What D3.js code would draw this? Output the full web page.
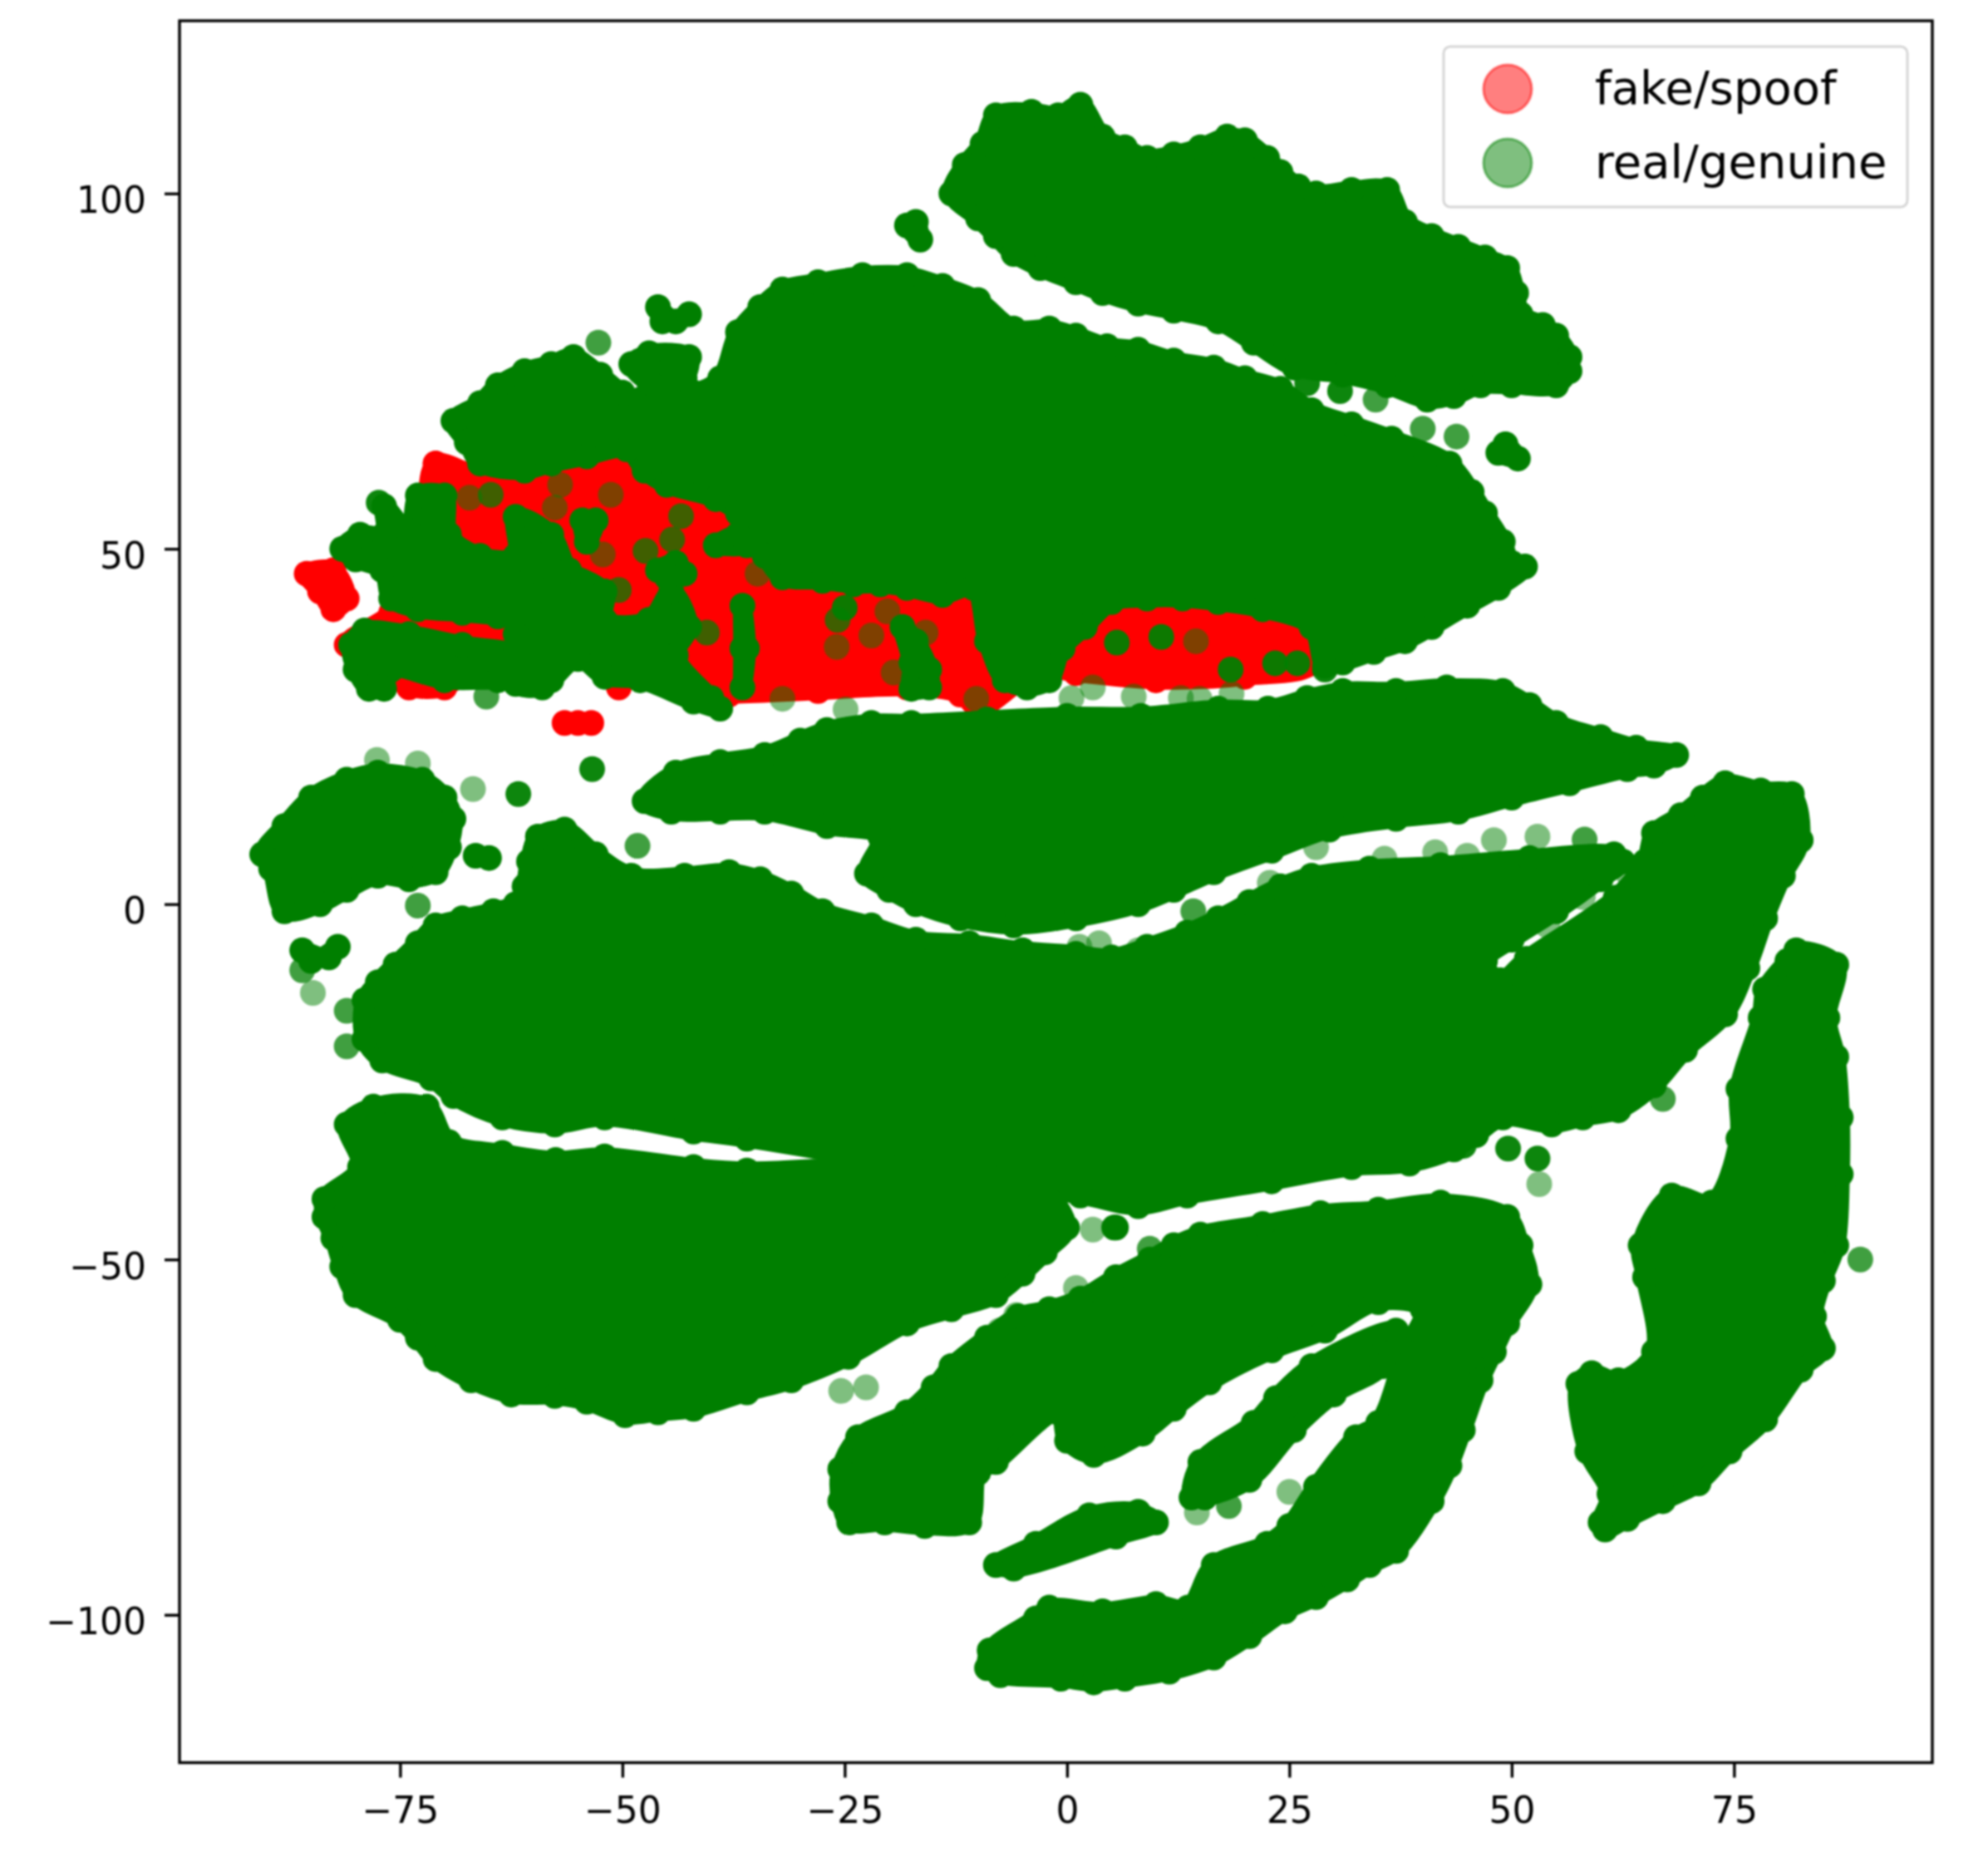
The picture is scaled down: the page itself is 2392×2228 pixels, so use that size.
<!DOCTYPE html>
<html><head><meta charset="utf-8">
<script src="https://cdn.jsdelivr.net/npm/d3@7"></script>
<style>html,body{margin:0;padding:0;background:#fff}svg{display:block;filter:blur(0.9px)}text{font-family:"DejaVu Sans";fill:#000}</style>
</head><body><div id="c"></div>
<script>
// The reference has far too many overlapping points to read one by one. Where they merge into a
// solid mass, the mass is recorded as the ring of edge-point centres read from the picture (data units).
// Points that can be told apart are listed individually.
const xTicks=[-75,-50,-25,0,25,50,75];
const yTicks=[-100,-50,0,50,100];
const seriesNames=["fake/spoof","real/genuine"];

const fakeMain=[[-71,62],[-65,60],[-50,63],[-42,58],[-32,52],[-20,48],[-10,46],[0,44],[10,44],[20,44],[28,44],[28,34],[20,32],[10,31.5],[1,32.5],[-3,33],[-10,27.5],[-12,29.5],[-18,30.5],[-28,30],[-38,29.5],[-43,30],[-44,34],[-50,34.5],[-58,35],[-66,34],[-70,30.5],[-74,30.5],[-77,33],[-81,36.5],[-76,41],[-72,48],[-72,55]];
const fakeBlobA=[[-85.5,46.5],[-82.5,47],[-81,43],[-82.5,41.5],[-84,44]];
const fakeBlobB=[[-56.5,25.5],[-55,25.5],[-53.5,25.5]];
const fakePoints=[[-50.4,30.5],[-71,62],[-10,27]];

const realTopRight=[[-13,100],[-11.5,104],[-9.5,107],[-8,111],[-4,111.5],[-1,111],[1.5,112.5],[4,108],[6.5,106.5],[9,105],[12,105.5],[15,106.5],[18,108],[20,107.5],[22.5,105],[24,103],[26,101],[28,100],[32,100.5],[36,100.5],[38,96],[41,94],[44,92.5],[47,91],[49.5,89.5],[50.5,86],[51,83],[53.5,81.5],[55,80],[56.5,77],[56.5,75],[55,73],[50,73],[46.5,73],[43.5,71.5],[40.5,71],[36,73],[31,74.5],[25.6,75.5],[21,79],[17,82],[12,83.5],[8,84.5],[4,86],[1,87.5],[-3,89.5],[-6,91.5],[-8,94],[-10,96.5]];
const realUpper=[[-67.5,65],[-69,68],[-66,70.5],[-64,73],[-61,75],[-58,76],[-55.5,77],[-52.5,74.5],[-50,72],[-48,71],[-46,71],[-42,72],[-39,74],[-37,80.5],[-34.5,84],[-32,86.5],[-28,87.5],[-23,88.5],[-18,88.5],[-14,87],[-10,85],[-6,81],[-2,81],[1,80],[4.5,78.5],[8,78],[12,76.5],[16.5,75.5],[20,74],[24,72.5],[27.5,69.5],[32,67.5],[36.5,65.5],[43,62],[45.5,58],[47,55],[49,51],[50,48],[51.5,47.5],[48.5,44.5],[45,42],[41,39],[38,37],[34.5,35.5],[31,34],[29,33.5],[27.5,39],[22,41.5],[17,42.5],[13,43],[9,43],[5,42.5],[2,39],[-0.5,36],[-2,31.5],[-4.5,30.5],[-7,31.5],[-9,37],[-10.5,44.5],[-14,43.5],[-18,44.5],[-21,45],[-24,45],[-27.5,45.5],[-32,46],[-34,49],[-37,55],[-39.5,57],[-45,59],[-47.5,61],[-49.5,64],[-54,63],[-58,62],[-61,61],[-66,62]];
const realMidBand=[[-47.5,14.5],[-44,18.5],[-39,20],[-34,21],[-30,23],[-27,24.5],[-22,25.5],[-17.5,25.5],[-9,26],[0,26.5],[8.3,26.5],[17,27.5],[22.6,27.5],[27,29],[31,30],[37,30],[42.7,30.5],[49,30],[52,28],[55,25.5],[60,23.5],[64,22],[68.5,21],[66,19.5],[63,19],[56.5,17],[50,15],[44,13],[37,12],[29.5,10.5],[23,7.5],[16.5,4.5],[12,2],[8,0],[1,-2],[-6,-3],[-12,-2],[-17,0],[-20,2],[-22.5,4.3],[-21,9.5],[-27,11],[-34,13],[-39,13],[-44.5,13]];
const realLeftTop=[[-90.5,7],[-88,11],[-85,15],[-81,17.5],[-77.5,18.5],[-72.5,17.5],[-70,15],[-69,12],[-69.5,8],[-71,4.5],[-74,3.5],[-77.5,4],[-81,2],[-84,0],[-88,-1],[-89.5,5]];
const realLeftSmall=[[-86,-6.5],[-83,-7.5],[-82,-6],[-85,-8]];
const realMain=[[-79,-13.5],[-77.5,-11],[-75.5,-8.5],[-73,-5.5],[-71,-3],[-68,-2],[-64.5,-1],[-62,0],[-61,2.5],[-60.5,6],[-59.5,9.5],[-56.5,10.5],[-53,7],[-49,4],[-43,4],[-38,4.5],[-34.5,3.5],[-31,1.5],[-27.5,-1],[-22,-3],[-17,-5],[-11,-5.5],[-5,-6.5],[1,-7],[5,-7.5],[9,-6],[13.5,-4],[17,-2],[20.5,0.3],[24,2.5],[27.5,4],[34,5],[42,5.5],[52,6.5],[61.5,7],[62.5,6],[60,3.5],[55,-1],[50,-5],[47,-8],[48.7,-10.7],[51.7,-7.7],[61.7,0.9],[65,6],[66,10],[69,12.5],[71.5,15],[74,17],[78,16],[81.5,15.5],[82.5,9],[80.5,4],[78.5,-2],[76.5,-9],[74,-15.5],[69.5,-20.5],[66,-25.5],[62,-29],[58,-30],[54.5,-31],[49,-30],[46,-32.5],[43.5,-34.5],[38.5,-36.5],[32,-37],[23,-39],[13.5,-41],[8,-42.5],[1.5,-41],[-36,-33],[-42,-32],[-52,-30],[-57.6,-31],[-63.5,-30],[-69,-27],[-71.5,-24.5],[-77,-22],[-79,-19]];
const realLowerLeft=[[-81,-31],[-78,-28.5],[-72,-28.5],[-69.5,-33.5],[-63.5,-35],[-57.5,-36],[-52,-35.5],[-42,-37],[-36,-37.5],[-20,-37],[-3,-40],[0,-45.5],[-2.5,-49],[-5,-52],[-8,-55],[-13,-57],[-18,-59],[-24.6,-63.7],[-31,-67],[-36,-68.7],[-42,-71],[-46,-71.5],[-49.7,-71.9],[-54,-70],[-57.6,-69.2],[-62.5,-69],[-67,-67],[-71,-64],[-73,-61],[-75,-58.5],[-80,-55],[-81.5,-51],[-82.5,-47],[-83.5,-44],[-83.5,-41.5],[-79.5,-37]];
const realLeaf=[[-25.5,-79.5],[-23.5,-75],[-18,-71.5],[-15,-68],[-13,-65],[-9,-61],[-5.5,-58],[-2,-57],[1.5,-55.5],[5.5,-52.5],[9.3,-50],[12,-48],[15,-46.5],[22,-45],[28.5,-43.5],[35,-43],[42,-42],[49.5,-44],[51,-48],[52,-53.5],[49.5,-59],[48,-63],[46.5,-67],[44.5,-74],[43,-79],[41,-84],[37,-91],[34,-93],[31.5,-95],[28,-97.5],[24.5,-99.5],[20.5,-103],[16.5,-106],[11.5,-108],[6.5,-109],[3,-109.5],[-0.7,-109],[-7.5,-108.5],[-9,-107.5],[-8.7,-105],[-3.5,-100.5],[-2,-99],[4,-99.5],[10,-98.5],[13.6,-99],[16.5,-93],[22.5,-90],[25,-87.5],[28,-82],[32.5,-75],[35,-73],[38,-63],[40,-57],[35,-56],[29,-60],[23,-62.8],[16,-67.3],[12,-71],[8.5,-74.5],[3,-77.5],[0,-75.5],[-1,-71.5],[-8,-78.5],[-10,-80],[-11,-87],[-16,-87.5],[-20.5,-87],[-24.5,-87],[-25.5,-84]];
const realLeafArm=[[37,-60],[27.5,-65],[23.5,-69.5],[21,-73],[15,-78.5],[14,-83.5],[15.5,-83.5],[20.5,-81],[25.5,-74],[30,-69],[35.5,-65]];
const realLeafSmall=[[-8,-93],[-3.5,-90],[2.5,-86],[8,-85.5],[10,-87],[5.5,-89],[-6,-93.5]];
const realRight=[[82,-6.5],[86.5,-8.5],[85.5,-16],[86.5,-21.5],[87,-30],[87,-38],[86.5,-48],[85,-53],[84,-58],[85,-62.5],[82.5,-65.5],[78.5,-72.5],[74.5,-77],[71,-81.5],[67,-84],[63,-86.5],[60.5,-88],[60,-87],[61,-83],[58.5,-77],[57.5,-67.5],[59,-66],[62,-67],[66,-63],[65,-52.5],[64.5,-48],[68,-41],[72.5,-42],[75.5,-33],[75.5,-26],[78,-16],[78.5,-12],[81,-8]];
const realBlobTopA=[[-46,84],[-44,82],[-42.5,83],[-45.5,82]];
const realBlobTopB=[[-49,76],[-47,77.5],[-42.5,77],[-43,74],[-47,73.5]];
const realBlobTopC=[[-18,95.5],[-16.5,93.5],[-17,96]];
const realOverRedA=[[-81.5,50],[-79.5,52],[-76.8,52],[-76.8,56],[-74,52.5],[-73,57.5],[-70,57.5],[-69.5,52],[-66,49],[-62,49],[-62,54.5],[-58,52],[-56,47],[-54,45],[-54.5,42],[-60,40],[-64,40.5],[-68,41],[-73,41.5],[-76,43],[-77,47],[-80,48.5]];
const realOverRedB=[[-80.5,36.5],[-79,38.5],[-74,38],[-68,36.5],[-62,35.5],[-58,33.5],[-58,31.5],[-64,31.5],[-70,31.5],[-76,33],[-76.8,30.3],[-78.5,30.3],[-80,33]];
const realOverRedC=[[-60,47],[-52,44],[-52,40],[-47,40],[-44.5,44],[-42.5,39],[-44,35],[-40,29],[-39,27.5],[-42,28.5],[-48,31.5],[-52,32],[-55,34.5],[-59,30.5],[-62,31],[-62,38]];
const realLumps=[
 [[-46,47],[-44,48],[-43,46.5],[-45,46]],
 [[-39.5,50.5],[-37,52],[-36,50.5]],
 [[-54.5,54],[-53,54],[-54,51]],
 [[-36.5,42],[-36.5,36],[-36.5,30.5],[-36,36]],
 [[-18.5,39],[-17,37],[-15.5,33],[-15.5,30.5],[-17.5,30.3],[-17.5,34]],
 [[-66.5,6.8],[-65,6.5]],[[49.3,64.7],[50.7,62.7],[48.5,63.5]],
 [[5.3,-45.5],[5.5,-45.5]]
];
const realSingle=[[-24.9,27.4],[-66.8,16.2],[-84.8,-12.5],[53.1,-39.4],[2.9,-45.8],[25,-82.7],[14.6,-85.6],[63.2,4.1],[1,-54],[-5.7,-57.8],[-7.6,-60],[45,6.8],[41.4,7.3],[35.7,6.4],[22.8,3],[3.6,-5.5],[1.4,-6],[52.9,9.5],[18.5,29.6],[14.9,28.9],[12.8,29],[0.5,29],[-25.4,-68.5],[-22.6,-68],[-77.6,20.3],[-73,19.8],[-32,28.9],[-67.2,57.2],[-57,59],[-57.6,55.8],[-51.3,57.6],[-52.2,49.2],[-34.8,46.5],[-25.9,36.2],[-22,37.8],[-20.2,41.2],[-19.5,32.6],[-15.9,38.2],[-10.2,28.9],[-61.2,37],[14.5,37],[7.5,29.2],[2.9,30.5],[54,-3],[58,1],[48,9],[28,8],[8,-6.5]];
const realDouble=[[-81,-15],[-81,-20],[-73,-0.2],[-86,-9.3],[67,-27.4],[89.2,-50],[18.2,-84.7],[14.2,-1],[65.3,5.4],[9.3,-48.5],[58.2,9.1],[43.8,65.8],[34.7,71],[40,66.9],[-48.3,8.2],[-64.8,57.6],[-43.4,54.6],[-44.4,51.3],[-50.4,44.2],[-47.4,49.7],[-25.8,40],[-40.5,38.2],[-65.3,29.2],[-52.7,79]];
const realSolid=[[-53.4,19],[-61.7,15.5],[49.6,-34.4],[52.9,-35.8],[44.6,-34],[30.7,72.2],[27,73.3],[5.6,36.8],[10.6,37.6],[18.4,33],[23.4,33.9],[25.9,33.9],[29,33],[-25,41.7],[-77.4,56.5]];

const W=2392,H=2228,L=216,R=2325,T=25,B=2120.5,rad=15.5;
const x=d3.scaleLinear().domain([-99.8,97.3]).range([L,R]);
const y=d3.scaleLinear().domain([124.3,-120.8]).range([T,B]);
const svg=d3.select("#c").append("svg").attr("width",W).attr("height",H);
svg.append("rect").attr("width",W).attr("height",H).attr("fill","#fff");
const line=d3.line().x(d=>x(d[0])).y(d=>y(d[1])).curve(d3.curveCatmullRomClosed.alpha(0.5));

function mass(ring,col,g){
  g.append("path").datum(ring).attr("d",line).attr("fill",col).attr("stroke",col).attr("stroke-width",rad*2-9).attr("stroke-linejoin","round");
  g.selectAll(null).data(ring).join("circle").attr("cx",d=>x(d[0])).attr("cy",d=>y(d[1])).attr("r",rad).attr("fill",col);
}
function pts(list,col,op,g){
  g.selectAll(null).data(list).join("circle").attr("cx",d=>x(d[0])).attr("cy",d=>y(d[1])).attr("r",rad).attr("fill",col).attr("fill-opacity",op);
}
const red="#ff0000",green="#007f00";
const plot=svg.append("g");
[fakeMain,fakeBlobA,fakeBlobB].forEach(r=>mass(r,red,plot));
pts(fakePoints,red,1,plot);
[realTopRight,realUpper,realMidBand,realLeftTop,realLeftSmall,realMain,realLowerLeft,realLeaf,realLeafArm,realLeafSmall,realRight,realBlobTopA,realBlobTopB,realBlobTopC,realOverRedA,realOverRedB,realOverRedC,...realLumps].forEach(r=>mass(r,green,plot));
pts(realSingle,green,0.5,plot);
pts(realDouble,green,0.75,plot);
pts(realSolid,green,0.95,plot);

const ax=svg.append("g").attr("transform",`translate(0,${B})`).call(d3.axisBottom(x).tickValues(xTicks).tickSize(18).tickPadding(23));
const ay=svg.append("g").attr("transform",`translate(${L},0)`).call(d3.axisLeft(y).tickValues(yTicks).tickSize(18).tickPadding(22));
[ax,ay].forEach(a=>{a.select(".domain").remove();a.selectAll("line").attr("stroke","#000").attr("stroke-width",3.4);a.selectAll("text").attr("font-size",44).attr("font-family","DejaVu Sans").attr("fill","#000");});
ay.selectAll("text").attr("dy","0.52em");
svg.append("rect").attr("x",L).attr("y",T).attr("width",R-L).attr("height",B-T).attr("fill","none").attr("stroke","#000").attr("stroke-width",3.4);

const leg=svg.append("g");
leg.append("rect").attr("x",1737).attr("y",56).attr("width",558).attr("height",193).attr("rx",8).attr("fill","#fff").attr("fill-opacity",0.8).attr("stroke","#d6d6d6").attr("stroke-width",3);
const legY=[107,196],legCol=[red,green];
seriesNames.forEach((n,i)=>{
  leg.append("circle").attr("cx",1814).attr("cy",legY[i]).attr("r",29).attr("fill",legCol[i]).attr("fill-opacity",0.5).attr("stroke",legCol[i]).attr("stroke-opacity",0.5).attr("stroke-width",3);
  leg.append("text").attr("x",1919).attr("y",legY[i]+18).attr("font-size",56).text(n);
});
</script></body></html>
